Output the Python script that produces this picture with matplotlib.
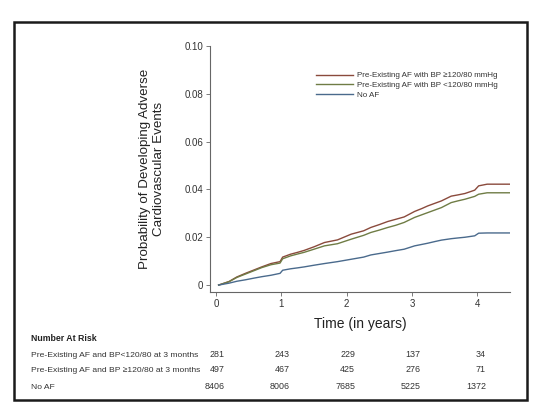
import matplotlib.pyplot as plt
import matplotlib.transforms as mtransforms
from matplotlib.patches import Rectangle

plt.rcParams['font.family'] = ['Liberation Sans', 'DejaVu Sans']

# time grid (years) and cumulative probabilities
t = [0.04, 0.2, 0.32, 0.45, 0.58, 0.7, 0.84, 0.98, 1.02, 1.14, 1.25, 1.35, 1.5,
     1.66, 1.86, 2.07, 2.26, 2.37, 2.5, 2.63, 2.75, 2.88, 3.04, 3.15, 3.24, 3.35,
     3.45, 3.6, 3.7, 3.81, 3.96, 4.02, 4.15, 4.5]
af_high = [0, 0.0015, 0.0034, 0.0049, 0.0063, 0.0076, 0.0090, 0.0098, 0.0117,
           0.0129, 0.0137, 0.0145, 0.0160, 0.0178, 0.0189, 0.0213, 0.0227, 0.0241,
           0.0253, 0.0266, 0.0275, 0.0285, 0.0308, 0.0320, 0.0331, 0.0342, 0.0352,
           0.0372, 0.0377, 0.0383, 0.0397, 0.0415, 0.0422, 0.0422]
af_low = [0, 0.0014, 0.0032, 0.0046, 0.0060, 0.0073, 0.0085, 0.0092, 0.0110,
          0.0122, 0.0130, 0.0137, 0.0150, 0.0164, 0.0173, 0.0192, 0.0208, 0.0220,
          0.0230, 0.0241, 0.0250, 0.0262, 0.0283, 0.0294, 0.0303, 0.0314, 0.0324,
          0.0345, 0.0352, 0.0359, 0.0371, 0.0380, 0.0386, 0.0386]
no_af = [0, 0.0008, 0.0016, 0.0022, 0.0029, 0.0035, 0.0041, 0.0049, 0.0062,
         0.0068, 0.0072, 0.0076, 0.0083, 0.0090, 0.0098, 0.0108, 0.0117, 0.0126,
         0.0132, 0.0138, 0.0144, 0.0150, 0.0164, 0.0170, 0.0175, 0.0182, 0.0188,
         0.0194, 0.0197, 0.0200, 0.0206, 0.0217, 0.0218, 0.0218]

yticks = [0, 0.02, 0.04, 0.06, 0.08, 0.10]
ytick_labels = ['0', '0.02', '0.04', '0.06', '0.08', '0.10']
xticks = [0, 1, 2, 3, 4]

risk_rows = ['Pre-Existing AF and BP<120/80 at 3 months',
             'Pre-Existing AF and BP \u2265120/80 at 3 months',
             'No AF']
risk_counts = [[281, 243, 229, 137, 34],
               [497, 467, 425, 276, 71],
               [8406, 8006, 7685, 5225, 1372]]

W, H = 552, 416
fig = plt.figure(figsize=(W / 100, H / 100), dpi=100)

# outer frame
fig.patches.append(Rectangle((14 / W, 1 - 400 / H), (527 - 14) / W, (400 - 22) / H,
                             transform=fig.transFigure, fill=False,
                             edgecolor='#1a1a1a', linewidth=1.8))

ax = fig.add_axes([210 / W, 1 - 292 / H, 300 / W, (292 - 46) / H])
ax.plot(t, af_high, color='#8a4a3c', lw=1.0,
        label='Pre-Existing AF with BP \u2265120/80 mmHg')
ax.plot(t, af_low, color='#6f7c45', lw=1.0,
        label='Pre-Existing AF with BP <120/80 mmHg')
ax.plot(t, no_af, color='#4a6a8c', lw=1.0,
        label='No AF')

ax.set_xlim(-0.092, 4.5)
ax.set_ylim(-0.0029, 0.1)
ax.set_yticks(yticks)
ax.set_yticklabels(ytick_labels)
ax.set_xticks(xticks)
ax.spines['top'].set_visible(False)
ax.spines['right'].set_visible(False)
for s in ['left', 'bottom']:
    ax.spines[s].set_color('#666666')
    ax.spines[s].set_linewidth(0.8)
ax.tick_params(axis='both', length=3, width=0.6, color='#666666',
               labelcolor='#333333', labelsize=7, pad=2)

ax.set_xlabel('Time (in years)', fontsize=10, color='#222222', labelpad=6)
ax.set_ylabel('Probability of Developing Adverse\nCardiovascular Events',
              fontsize=9.6, color='#222222', labelpad=14)

ax.legend(loc='upper left', bbox_to_anchor=(0.33, 0.925), frameon=False,
          fontsize=5.8, handlelength=4.6, handletextpad=0.5, labelspacing=0.25,
          labelcolor='#333333')

# number at risk table
fig.text(31 / W, 1 - 341 / H, 'Number At Risk', fontsize=6.3, fontweight='bold',
         color='#222222', va='baseline', ha='left')
trans = mtransforms.blended_transform_factory(ax.transData, fig.transFigure)
row_y = [357, 372, 389]
for label, counts, yy in zip(risk_rows, risk_counts, row_y):
    fig.text(31 / W, 1 - yy / H, label, fontsize=6.1, color='#333333',
             va='baseline', ha='left')
    for xv, n in zip(xticks, counts):
        ax.text(xv + 0.13, 1 - yy / H, str(n), transform=trans, fontsize=6.4,
                color='#333333', va='baseline', ha='right', clip_on=False)

fig.savefig('out.png', dpi=100)
